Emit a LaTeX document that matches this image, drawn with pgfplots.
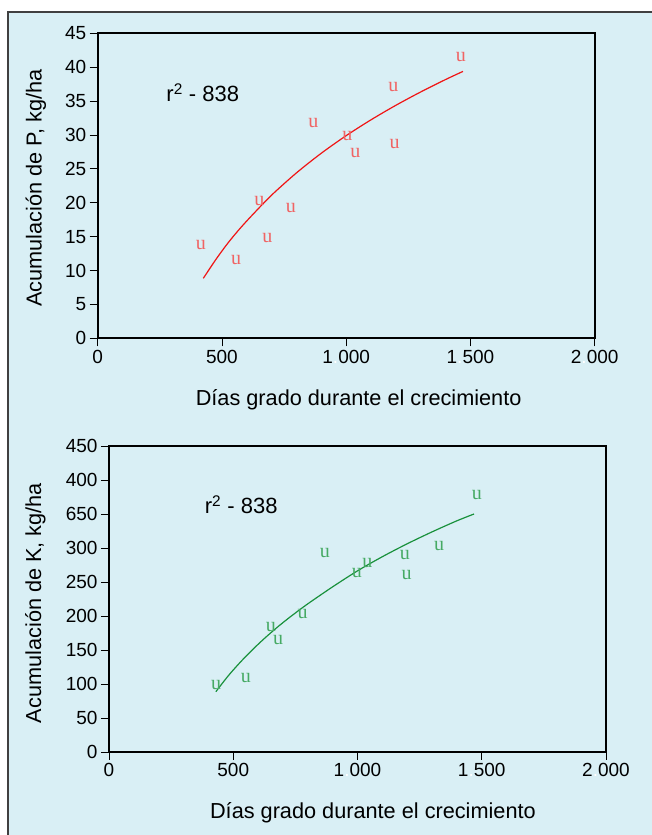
\documentclass[border=0pt]{standalone}
\usepackage{pgfplots}
\pgfplotsset{compat=1.18}
\usepackage{fontspec}
\setmainfont{Liberation Sans}
\newfontfamily\serifu{Liberation Serif}

\definecolor{bg}{RGB}{217,239,245}
\definecolor{pmark}{RGB}{240,100,100}
\definecolor{pline}{RGB}{240,20,20}
\definecolor{kmark}{RGB}{70,170,100}
\definecolor{kline}{RGB}{25,145,60}

\tikzset{lbl/.style={font=\fontsize{21.7}{26}\selectfont, inner sep=0pt}}

\pgfplotsset{
  panel/.style={
    scale only axis,
    width=497pt, height=305pt,
    xmin=0, xmax=2000,
    xtick={0,500,1000,1500,2000},
    xticklabels={0,500,1\textcolor{white}{.}000,1\textcolor{white}{.}500,2\textcolor{white}{.}000},
    tick align=outside,
    xtick pos=bottom, ytick pos=left,
    major tick length=8pt,
    every tick/.style={black, line width=0.8pt},
    axis line style={black, line width=1.6pt},
    tick label style={font=\fontsize{19}{22}\selectfont},
    /pgf/number format/assume math mode=true,
    clip=false,
  },
  umarks/.style={only marks, mark=text, text mark={u}, text mark as node=true,
    text mark style={font=\serifu\fontsize{20}{20}\selectfont, inner sep=0pt, text=#1}},
}

\begin{document}
\begin{tikzpicture}
  \path[use as bounding box] (0pt,0pt) rectangle (652pt,835pt);
  \fill[white] (0pt,0pt) rectangle (652pt,835pt);
  \fill[bg] (8pt,0pt) rectangle (652pt,823pt);
  \draw[black!75, line width=1.2pt] (8pt,0pt) -- (8pt,823pt) -- (652pt,823pt);

  % phosphorus
  \begin{axis}[panel,
      at={(97.7pt,496.7pt)}, anchor=south west,
      ymin=0, ymax=45,
      ytick={0,5,...,45},
      yticklabels={0,5,10,15,20,25,30,35,40,45},
      xlabel={Días grado durante el crecimiento},
      ylabel={Acumulación de P, kg/ha},
      every axis x label/.style={lbl, at={(axis description cs:0.525,-0.202)}, anchor=center},
      every axis y label/.style={lbl, at={(axis description cs:-0.1245,0.493)}, rotate=90, anchor=center},
    ]
    \addplot[pline, line width=1.2pt, smooth] coordinates {
      (425,8.85) (475,11.6) (525,14.1) (575,16.3) (625,18.3) (700,21.13) (800,24.41) (900,27.31)
      (1000,29.90) (1100,32.24) (1200,34.38) (1300,36.35) (1400,38.18) (1470,39.38)
    };
    \addplot[umarks=pmark] coordinates {
      (415,13.8) (557,11.5) (683,14.8) (651,20.2) (777,19.2) (868,31.8)
      (1005,29.8) (1037,27.4) (1190,37.1) (1195,28.6) (1461,41.5)
    };
    \node[anchor=base west, font=\fontsize{22}{26}\selectfont, inner sep=0pt]
      at (axis cs:276,34.9) {r\textsuperscript{2} - 838};
  \end{axis}

  % potassium
  \begin{axis}[panel,
      at={(109pt,83pt)}, anchor=south west,
      height=306pt,
      ymin=0, ymax=450,
      ytick={0,50,...,450},
      yticklabels={0,50,100,150,200,250,300,650,400,450},
      xlabel={Días grado durante el crecimiento},
      ylabel={Acumulación de K, kg/ha},
      every axis x label/.style={lbl, at={(axis description cs:0.531,-0.2)}, anchor=center},
      every axis y label/.style={lbl, at={(axis description cs:-0.148,0.487)}, rotate=90, anchor=center},
    ]
    \addplot[kline, line width=1.2pt, smooth] coordinates {
      (430,88.7) (480,112.1) (530,132.7) (580,151.4) (630,168.5) (680,184.3) (730,198.9)
      (800,217.9) (900,242.9) (1000,266.4) (1100,287.2) (1200,306.2) (1300,323.7)
      (1400,340) (1469,350)
    };
    \addplot[umarks=kmark] coordinates {
      (431,98.5) (551,108.4) (651,184.3) (681,164.7) (779,203) (869,293)
      (997,262.8) (1040,278.4) (1191,289.7) (1198,259.8) (1328,302.9) (1480,377.9)
    };
    \node[anchor=base west, font=\fontsize{22}{26}\selectfont, inner sep=0pt]
      at (axis cs:385,350) {r\textsuperscript{2} - 838};
  \end{axis}
\end{tikzpicture}
\end{document}
